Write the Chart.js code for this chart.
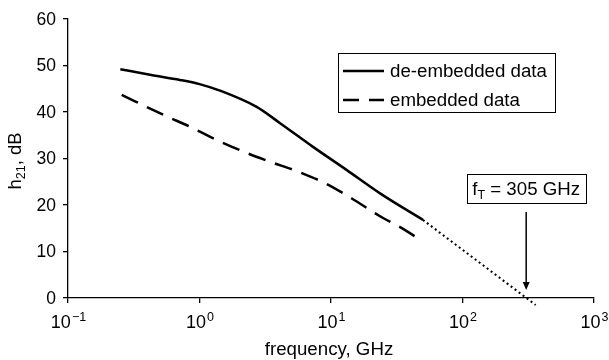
<!DOCTYPE html>
<html>
<head>
<meta charset="utf-8">
<script src="https://cdn.jsdelivr.net/npm/chart.js@4/dist/chart.umd.min.js"></script>
<style>
  html, body { margin: 0; padding: 0; background: #fff; }
  #chart { display: block; }
</style>
</head>
<body>
<canvas id="chart" width="609" height="360"></canvas>
<script>
// frequency in GHz, h21 in dB
const freqDeemb = [0.25, 0.42, 0.71, 1.0, 1.43, 2.72, 4.1, 7.3, 13.2, 23.6, 50];
const h21Deemb  = [49.2, 48.0, 46.9, 46.0, 44.6, 41.1, 37.6, 32.5, 27.5, 22.5, 16.8];

const freqEmb = [0.256, 0.53, 0.85, 1.35, 2.15, 3.44, 5.6, 9.0, 14.4, 22.9, 36.6, 50];
const h21Emb  = [43.7, 39.4, 36.8, 34.0, 31.5, 29.3, 27.2, 24.7, 21.4, 17.8, 14.6, 12.1];

// -20 dB/dec extrapolation of the de-embedded curve
const freqExtrap = [50, 360];
const h21Extrap  = [16.8, -1.5];

const fT = 305;
const xTickValues = [0.1, 1, 10, 100, 1000];
const xTickExps = ['\u22121', '0', '1', '2', '3'];
const yTickValues = [0, 10, 20, 30, 40, 50, 60];

const seriesNames = ['de-embedded data', 'embedded data'];

const FONT = '"Liberation Sans", Arial, Helvetica, sans-serif';

function pts(xs, ys) {
  return xs.map((x, i) => ({ x: x, y: ys[i] }));
}

const decor = {
  id: 'decor',
  beforeDraw(chart) {
    const c = chart.ctx;
    c.save();
    c.fillStyle = '#fff';
    c.fillRect(0, 0, chart.width, chart.height);
    c.restore();
  },
  afterDraw(chart) {
    const c = chart.ctx;
    const xs = chart.scales.x, ys = chart.scales.y;
    c.save();
    c.fillStyle = '#000';
    c.strokeStyle = '#000';

    // y tick labels
    c.font = '17.5px ' + FONT;
    c.textAlign = 'right';
    c.textBaseline = 'middle';
    yTickValues.forEach(v => c.fillText(String(v), xs.left - 12, ys.getPixelForValue(v) + 1));

    // x tick labels 10^n
    c.textAlign = 'left';
    c.textBaseline = 'alphabetic';
    xTickValues.forEach((v, i) => {
      c.font = '18px ' + FONT;
      const wb = c.measureText('10').width;
      c.font = '12.5px ' + FONT;
      const we = c.measureText(xTickExps[i]).width;
      const x0 = xs.getPixelForValue(v) - (wb + we) / 2;
      c.font = '18px ' + FONT;
      c.fillText('10', x0, 328);
      c.font = '12.5px ' + FONT;
      c.fillText(xTickExps[i], x0 + wb + 1, 321);
    });

    // x title
    c.font = '18.7px ' + FONT;
    c.textAlign = 'center';
    c.fillText('frequency, GHz', 329, 355);

    // y title h21, dB
    c.save();
    c.translate(21, 161);
    c.rotate(-Math.PI / 2);
    c.font = '18.5px ' + FONT;
    const wh = c.measureText('h').width;
    const wr = c.measureText(', dB').width;
    c.font = '12.5px ' + FONT;
    const ws = c.measureText('21').width;
    let tx = -(wh + ws + wr) / 2;
    c.textAlign = 'left';
    c.font = '18.5px ' + FONT;
    c.fillText('h', tx, 0);
    c.font = '12.5px ' + FONT;
    c.fillText('21', tx + wh, 4);
    c.font = '18.5px ' + FONT;
    c.fillText(', dB', tx + wh + ws, 0);
    c.restore();

    // legend box
    c.lineWidth = 1;
    c.strokeRect(338.5, 53.5, 217, 59);
    const legY = [71, 100];
    chart.data.datasets.slice(0, 2).forEach((ds, i) => {
      c.save();
      c.lineWidth = ds.borderWidth;
      c.setLineDash(i === 0 ? [] : [16, 10]);
      c.beginPath();
      c.moveTo(343, legY[i]);
      c.lineTo(384, legY[i]);
      c.stroke();
      c.restore();
      c.font = '18.7px ' + FONT;
      c.textAlign = 'left';
      c.textBaseline = 'middle';
      c.fillText(seriesNames[i], 390, legY[i] + 1);
    });

    // fT annotation box and arrow
    const ax = xs.getPixelForValue(fT);
    const ay0 = ys.getPixelForValue(0);
    c.lineWidth = 1;
    c.strokeRect(Math.round(ax - 59.5) + 0.5, 174.5, 119, 29);
    c.textBaseline = 'alphabetic';
    c.font = '18.7px ' + FONT;
    const wf = c.measureText('f').width;
    const wrest = c.measureText(' = 305 GHz').width;
    c.font = '12.5px ' + FONT;
    const wt = c.measureText('T').width;
    let bx = ax - (wf + wt + wrest) / 2;
    c.font = '18.7px ' + FONT;
    c.fillText('f', bx, 195);
    c.font = '12.5px ' + FONT;
    c.fillText('T', bx + wf, 199);
    c.font = '18.7px ' + FONT;
    c.fillText(' = 305 GHz', bx + wf + wt, 195);

    c.lineWidth = 1.5;
    c.beginPath();
    c.moveTo(ax, 212);
    c.lineTo(ax, ay0 - 14);
    c.stroke();
    c.beginPath();
    c.moveTo(ax - 3.5, ay0 - 16);
    c.lineTo(ax + 3.5, ay0 - 16);
    c.lineTo(ax, ay0 - 8);
    c.closePath();
    c.fill();

    c.restore();
  }
};

new Chart(document.getElementById('chart'), {
  type: 'scatter',
  data: {
    datasets: [
      {
        label: seriesNames[0],
        data: pts(freqDeemb, h21Deemb),
        showLine: true,
        borderColor: '#000',
        borderWidth: 2.5,
        pointRadius: 0,
        cubicInterpolationMode: 'monotone',
        clip: false
      },
      {
        label: seriesNames[1],
        data: pts(freqEmb, h21Emb),
        showLine: true,
        borderColor: '#000',
        borderWidth: 2.5,
        borderDash: [18, 10],
        pointRadius: 0,
        cubicInterpolationMode: 'monotone',
        clip: false
      },
      {
        label: 'extrapolation',
        data: pts(freqExtrap, h21Extrap),
        showLine: true,
        borderColor: '#000',
        borderWidth: 2,
        borderDash: [2, 3],
        pointRadius: 0,
        clip: false
      }
    ]
  },
  options: {
    responsive: false,
    animation: false,
    devicePixelRatio: 1,
    layout: { padding: { left: 63, right: 15, top: 19, bottom: 57 } },
    plugins: {
      legend: { display: false },
      tooltip: { enabled: false }
    },
    scales: {
      x: {
        type: 'logarithmic',
        min: 0.1,
        max: 1000,
        afterBuildTicks: s => { s.ticks = xTickValues.map(v => ({ value: v })); },
        ticks: { display: false },
        grid: { drawOnChartArea: false, tickLength: 5, color: '#000', lineWidth: 1.3 },
        border: { color: '#000', width: 1.3 }
      },
      y: {
        min: 0,
        max: 60,
        afterBuildTicks: s => { s.ticks = yTickValues.map(v => ({ value: v })); },
        ticks: { display: false },
        grid: { drawOnChartArea: false, tickLength: 5, color: '#000', lineWidth: 1.3 },
        border: { color: '#000', width: 1.3 }
      }
    }
  },
  plugins: [decor]
});
</script>
</body>
</html>
